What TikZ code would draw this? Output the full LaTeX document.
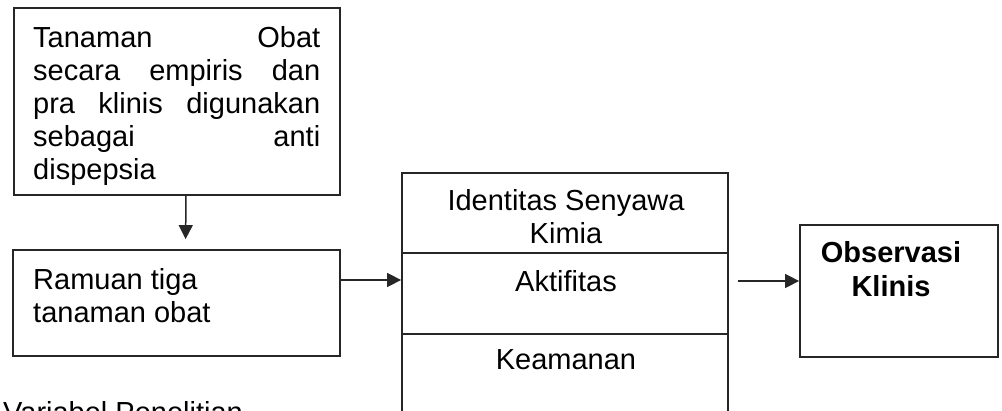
\documentclass[tikz,border=0pt]{standalone}
\usepackage{fontspec}
\setmainfont{Liberation Sans}
\usetikzlibrary{arrows.meta}
\tikzset{
  box/.style={draw=black!85, line width=1.8pt, minimum width=#1, inner sep=0pt},
  lbl/.style={inner sep=0pt, font=\fontsize{29}{33}\selectfont},
  arr/.style={draw=black!85, line width=1.5pt, -{Triangle[length=14pt,width=14pt]}},
}
\newcommand{\jline}[1]{\leavevmode\hbox to 287pt{#1}}
\begin{document}
\begin{tikzpicture}[x=1pt,y=-1pt]
\clip (0,0) rectangle (1002,411);
\fill[white] (0,0) rectangle (1002,411);
% boxes
\node[box=326pt, minimum height=187pt] (box1) at (177,101.5) {};
\node[box=327pt, minimum height=106pt] (box2) at (176.5,303) {};
\node[box=326pt, minimum height=242pt] (mid) at (565,294) {};
\node[box=198pt, minimum height=132pt] (obs) at (899,291) {};
\coordinate (d1) at (mid.west |- 0,253);
\coordinate (d2) at (mid.west |- 0,334);
\draw[draw=black!85, line width=1.8pt] (d1) -- (d1 -| mid.east);
\draw[draw=black!85, line width=1.8pt] (d2) -- (d2 -| mid.east);
% texts
\node[lbl, anchor=base west, text width=287pt] (t1) at (33,48) {%
\jline{Tanaman\hfill Obat}\\
\jline{secara\hfill empiris\hfill dan}\\
\jline{pra\hfill klinis\hfill digunakan}\\
\jline{sebagai\hfill anti}\\
dispepsia};
\node[lbl, anchor=base west, align=left] (t2) at (33,323) {Ramuan tiga\\tanaman obat};
\node[lbl, anchor=base, align=center] (t3) at (566,244) {Identitas Senyawa\\Kimia};
\node[lbl, anchor=base] (t4) at (566,292) {Aktifitas};
\node[lbl, anchor=base] (t5) at (566,370) {Keamanan};
\node[lbl, anchor=base, align=center, font=\fontsize{29}{34}\selectfont\bfseries] (t6) at (891,297) {Observasi\\Klinis};
\node[lbl, anchor=base west] (t7) at (3,423) {Variabel Penelitian};
% arrows
\draw[arr, shorten >=10pt] ([xshift=9pt]box1.south) -- ([xshift=9pt]box2.north);
\draw[arr] (box2.east |- 0,280) -- (mid.west |- 0,280);
\draw[arr, shorten <=9pt] (mid.east |- 0,281) -- (obs.west |- 0,281);
\end{tikzpicture}
\end{document}
